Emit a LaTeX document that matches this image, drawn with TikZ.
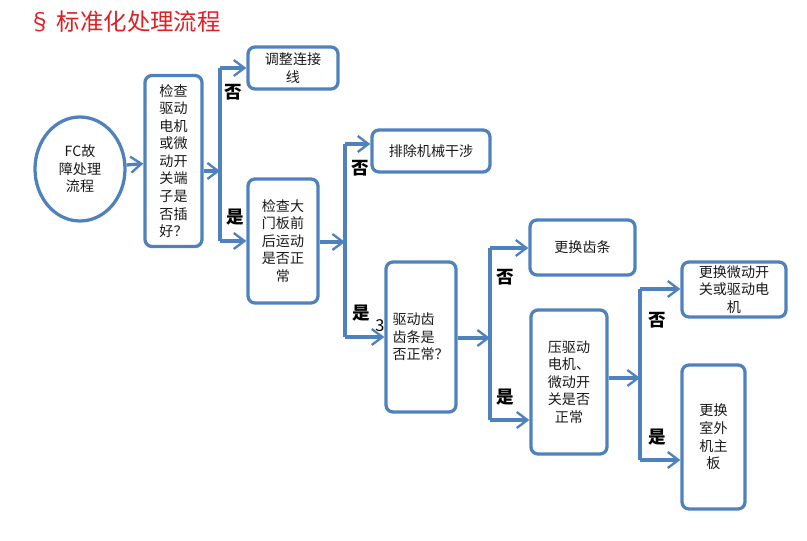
\documentclass[tikz,border=0pt]{standalone}
\usepackage{fontspec}
\setmainfont{Noto Sans CJK SC}
\usepackage{xcolor}
\usepackage{tikz}
\usetikzlibrary{arrows.meta, calc, positioning, shapes.geometric}
\definecolor{flowblue}{RGB}{79,129,189}
\definecolor{titlered}{RGB}{222,32,36}
\tikzset{
    box/.style={rectangle, rounded corners=6pt, draw=flowblue, line width=2.8pt, align=center,
        inner sep=2pt, font=\fontsize{12pt}{15pt}\selectfont, text=black!90},
    arrow/.style={-{Straight Barb[length=3.2mm, width=4.8mm, line width=2pt]}, line width=2.8pt, draw=flowblue},
    branch/.style={line width=2.8pt, draw=flowblue},
    yesno/.style={font=\fontsize{15pt}{15pt}\selectfont\bfseries, text=black},
}

\begin{document}
\begin{tikzpicture}[x=0.03cm, y=-0.03cm]
        \useasboundingbox (0,0) rectangle (807,541);
        \node[anchor=west, text=titlered, font=\fontsize{20pt}{24pt}\selectfont] (title) at (24,22) {§ 标准化处理流程};
        % nodes
        \node[ellipse, draw=flowblue, line width=2.8pt, minimum width=2.7cm, minimum height=3.12cm, align=center,
            font=\fontsize{12pt}{15pt}\selectfont, text=black!90] (fc) at (80,169) {FC故\\障处理\\流程};
        \node[box, minimum width=1.71cm, minimum height=5.13cm] (plug) at (173.5,161) {检查\\驱动\\电机\\或微\\动开\\关端\\子是\\否插\\好？};
        \node[box, minimum width=2.7cm, minimum height=1.26cm] (wire) at (293,68) {调整连接\\线};
        \node[box, minimum width=2.1cm, minimum height=3.72cm] (door) at (283,241) {检查大\\门板前\\后运动\\是否正\\常};
        \node[box, minimum width=3.54cm, minimum height=1.26cm] (mech) at (431,151) {排除机械干涉};
        \node[box, minimum width=2.1cm, minimum height=4.5cm, text width=1.71cm, align=left] (gear) at (421,337) {驱动齿\\齿条是\\否正常？};
        \node[font=\fontsize{14pt}{14pt}\selectfont] (three) at (380,326) {3};
        \node[box, minimum width=3.15cm, minimum height=1.65cm] (rack) at (582.5,247.5) {更换齿条};
        \node[box, minimum width=2.28cm, minimum height=4.32cm] (motor) at (569,382) {压驱动\\电机、\\微动开\\关是否\\正常};
        \node[box, minimum width=3.12cm, minimum height=1.65cm] (switch) at (734,289.5) {更换微动开\\关或驱动电\\机};
        \node[box, minimum width=1.89cm, minimum height=4.32cm] (board) at (713.5,437) {更换\\室外\\机主\\板};
        % branch points
        \coordinate (j1) at (220,171);
        \coordinate (j1a) at (220,68);
        \coordinate (j1b) at (220,241);
        \coordinate (j2) at (345,242);
        \coordinate (j2a) at (345,144);
        \coordinate (j2b) at (345,337);
        \coordinate (j3) at (490,338);
        \coordinate (j3a) at (490,248);
        \coordinate (j3b) at (490,420);
        \coordinate (j4) at (640,378);
        \coordinate (j4a) at (640,289);
        \coordinate (j4b) at (640,460);
        % connectors
        \draw[arrow] (fc) -- (plug);
        \draw[arrow] (plug.east |- j1) -- (j1);
        \draw[branch] (j1a) -- (j1b);
        \draw[arrow] (j1a) -- (wire.west |- j1a);
        \draw[arrow] (j1b) -- (door.west |- j1b);
        \draw[arrow] (door.east |- j2) -- (j2);
        \draw[branch] (j2a) -- (j2b);
        \draw[arrow] (j2a) -- (mech.west |- j2a);
        \draw[arrow] (j2b) -- (gear.west |- j2b);
        \draw[arrow] (gear.east |- j3) -- (j3);
        \draw[branch] (j3a) -- (j3b);
        \draw[arrow] (j3a) -- (rack.west |- j3a);
        \draw[arrow] (j3b) -- (motor.west |- j3b);
        \draw[arrow] (motor.east |- j4) -- (j4);
        \draw[branch] (j4a) -- (j4b);
        \draw[arrow] (j4a) -- (switch.west |- j4a);
        \draw[arrow] (j4b) -- (board.west |- j4b);
        % yes / no
        \node[yesno] (no1) at (233,92) {否};
        \node[yesno] (yes1) at (235,217) {是};
        \node[yesno] (no2) at (360,168) {否};
        \node[yesno] (yes2) at (361,313) {是};
        \node[yesno] (no3) at (505,277) {否};
        \node[yesno] (yes3) at (505,397) {是};
        \node[yesno] (no4) at (657,320) {否};
        \node[yesno] (yes4) at (657,437) {是};
    \end{tikzpicture}
\end{document}
